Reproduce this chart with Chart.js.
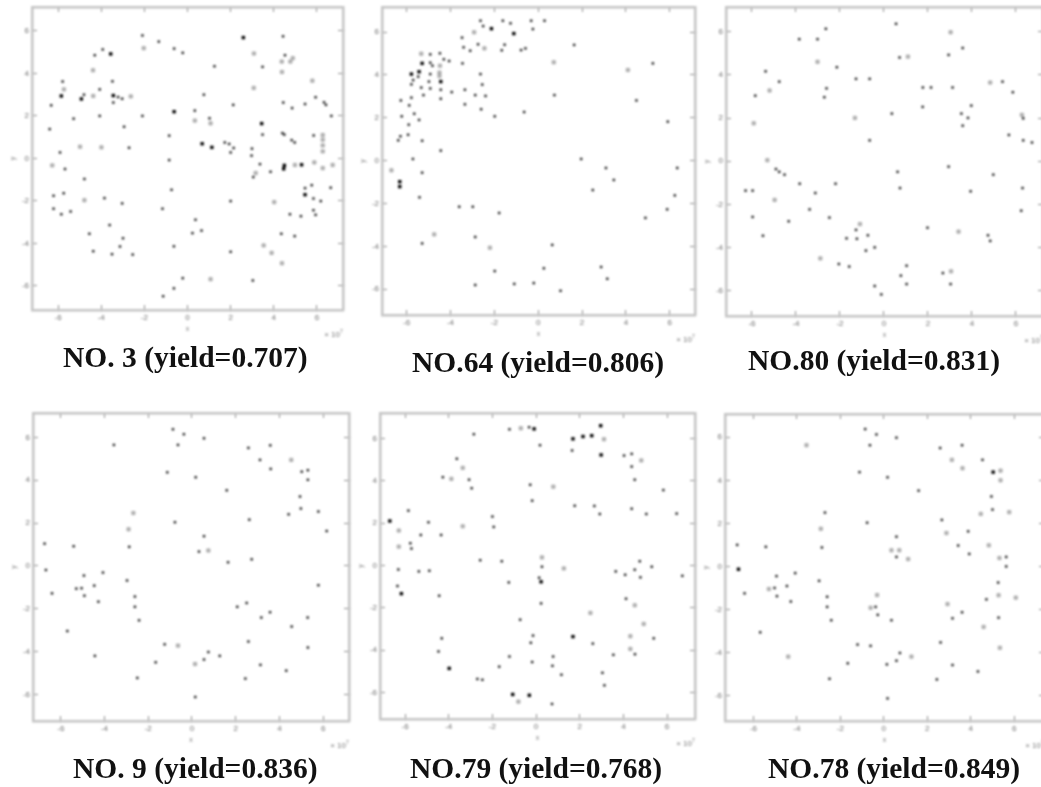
<!DOCTYPE html>
<html>
<head>
<meta charset="utf-8">
<script src="https://cdn.jsdelivr.net/npm/chart.js@4"></script>
<style>
  html, body { margin: 0; background: #fff; }
  body { position: relative; width: 1041px; height: 787px; overflow: hidden; }
  .panel { position: absolute; }
  .panel canvas { filter: blur(0.8px); }
  .caption {
    position: absolute; white-space: nowrap; transform: translateY(-50%);
    font: bold 29.5px "Liberation Serif", serif; color: #111; filter: blur(0.4px);
  }
</style>
</head>
<body>
<script>
const tickValues = [-6, -4, -2, 0, 2, 4, 6];

// NO. 3
const no3Marks = [[-2.09,5.79],[-1.33,5.50],[-0.62,5.17],[-0.22,4.97],[4.43,5.75],[4.52,4.86],[3.48,4.31],[1.25,4.34],[-3.93,5.13],[-4.30,4.86],[-5.79,3.62],[-3.48,3.63],[-4.07,3.25],[0.76,3.00],[-4.80,3.00],[-3.22,2.89],[-3.03,2.81],[-3.44,2.63],[-6.32,2.50],[4.44,2.63],[4.85,2.37],[5.45,2.56],[5.94,2.88],[6.33,2.64],[6.42,2.52],[2.12,2.52],[0.34,2.25],[1.02,1.89],[-5.28,1.87],[-4.07,2.00],[-2.09,2.00],[6.67,2.00],[-6.39,1.38],[-2.94,1.49],[-0.85,1.07],[3.48,1.12],[4.40,1.19],[4.49,1.12],[4.83,0.86],[4.97,0.75],[5.85,1.08],[-2.71,0.50],[1.73,0.75],[1.93,0.68],[2.14,0.49],[2.00,0.28],[2.99,0.46],[-5.91,0.28],[2.97,0.13],[-0.85,-0.08],[-5.68,-0.50],[3.36,-0.27],[3.85,-0.63],[3.05,-0.88],[-4.78,-0.97],[-0.74,-1.48],[5.76,-1.26],[5.45,-1.40],[6.64,-1.38],[-6.21,-1.76],[-5.74,-1.64],[-3.85,-1.87],[-3.03,-2.12],[2.00,-2.01],[5.84,-1.89],[6.18,-2.01],[-6.21,-2.37],[-5.85,-2.63],[-5.42,-2.50],[-1.16,-2.37],[5.84,-2.44],[5.94,-2.66],[4.75,-2.63],[5.26,-2.72],[0.37,-2.89],[-3.61,-3.14],[-4.55,-3.55],[0.23,-3.52],[0.65,-3.40],[4.35,-3.55],[4.97,-3.66],[-2.99,-3.76],[-3.13,-4.15],[-4.37,-4.37],[-3.50,-4.51],[-2.54,-4.53],[-0.63,-4.14],[2.00,-4.40],[-0.22,-5.64],[-0.63,-6.12],[3.03,-5.75],[-1.13,-6.49]];
const no3Pale = [[-2.03,5.19],[3.08,4.94],[4.88,4.72],[4.37,4.56],[4.77,4.56],[-4.38,4.15],[4.38,4.07],[-5.73,3.25],[5.79,3.66],[3.07,3.32],[-4.37,2.94],[-2.63,2.92],[0.34,1.78],[1.07,1.65],[6.27,1.10],[6.27,0.88],[6.27,0.61],[6.27,0.33],[-4.98,0.55],[-3.99,0.52],[-6.27,-0.33],[4.98,-0.31],[5.88,-0.19],[6.73,-0.31],[6.27,-0.46],[3.16,-0.69],[-4.78,-1.97],[4.02,-2.06],[3.53,-4.10],[3.90,-4.45],[4.38,-4.94],[1.07,-5.69]];
const no3Heavy = [[2.59,5.69],[-3.56,4.92],[-5.85,2.94],[-4.92,2.80],[-3.44,2.96],[-0.62,2.20],[3.44,1.64],[0.68,0.69],[1.13,0.52],[4.49,-0.33],[4.46,-0.49],[5.29,-0.30],[5.45,-1.71]];

// NO.64
const no64Marks = [[-2.63,6.53],[-2.51,6.28],[-1.61,6.53],[-1.26,6.41],[-0.32,6.53],[0.29,6.53],[-0.24,6.14],[-3.47,5.74],[-2.74,5.43],[-1.53,5.41],[-3.40,5.29],[-3.10,5.13],[-1.66,5.15],[-0.78,5.16],[-0.58,5.24],[1.64,5.40],[-4.92,4.96],[-4.48,5.01],[-4.30,4.73],[-4.06,4.65],[-4.92,4.57],[-4.82,4.43],[-3.45,4.54],[5.23,4.54],[-4.92,4.04],[-2.63,4.04],[-5.47,3.92],[-5.70,3.76],[-4.98,3.69],[-5.78,3.56],[-2.55,3.55],[-5.33,3.41],[-4.92,3.37],[-4.44,3.31],[-3.94,3.20],[-3.34,3.31],[-5.23,3.06],[-2.87,3.06],[-2.40,3.02],[0.74,3.06],[-5.78,2.94],[-6.26,2.81],[-4.44,2.89],[4.48,2.81],[-5.88,2.58],[-3.34,2.63],[-2.60,2.40],[-0.64,2.27],[-5.65,2.19],[-6.22,2.07],[-5.43,1.90],[-1.98,2.07],[5.91,1.82],[-5.90,1.68],[-5.93,1.21],[-6.28,1.14],[-6.38,0.95],[-5.29,0.93],[-4.44,0.47],[-5.71,0.08],[1.96,0.08],[-5.29,-0.56],[3.09,-0.34],[6.34,-0.34],[3.45,-0.90],[2.49,-1.37],[6.23,-1.62],[-5.41,-1.71],[-3.60,-2.15],[-2.98,-2.15],[5.88,-2.27],[-1.78,-2.44],[4.89,-2.67],[-2.87,-3.56],[-5.29,-3.86],[0.64,-3.93],[2.87,-4.96],[0.26,-5.02],[-1.98,-5.15],[3.15,-5.51],[-2.87,-5.80],[-1.09,-5.75],[-0.20,-5.71],[1.02,-6.07]];
const no64Pale = [[-2.92,5.99],[-2.45,5.24],[-5.33,4.99],[-4.48,4.43],[0.71,4.59],[4.09,4.23],[-4.50,4.11],[-4.50,3.95],[-6.69,-0.45],[-4.74,-3.44],[-2.20,-4.06]];
const no64Heavy = [[-2.13,6.16],[-1.11,5.93],[-5.29,4.54],[-5.78,4.04],[-5.43,4.15],[-4.44,3.69],[-6.31,-0.98],[-6.31,-1.21]];

// NO.80
const no80Marks = [[0.55,6.37],[-2.64,6.14],[-3.85,5.66],[-3.02,5.66],[3.58,5.25],[2.94,4.93],[0.71,4.81],[-2.14,4.36],[-5.38,4.17],[-4.76,3.69],[-1.27,3.82],[-0.65,3.82],[-2.61,3.38],[-5.85,3.04],[-2.71,2.97],[1.77,3.42],[2.14,3.42],[3.12,3.42],[5.39,3.69],[5.86,3.20],[3.97,2.58],[1.76,2.52],[0.36,2.21],[3.52,2.21],[3.82,2.01],[3.58,1.65],[6.33,1.99],[5.68,1.22],[6.33,0.97],[6.73,0.87],[-0.65,0.97],[2.94,-0.25],[-4.91,-0.36],[-4.76,-0.49],[-4.52,-0.62],[0.62,-0.49],[4.97,-0.62],[-3.83,-1.04],[-2.20,-1.04],[0.73,-1.24],[6.30,-1.24],[-6.29,-1.36],[-5.97,-1.36],[3.94,-1.39],[-3.12,-1.47],[-3.38,-2.23],[6.24,-2.29],[-5.97,-2.58],[-2.48,-2.61],[-4.33,-2.78],[1.98,-3.08],[-1.27,-3.18],[-5.50,-3.45],[-1.70,-3.57],[-1.23,-3.59],[-0.73,-3.43],[4.73,-3.43],[4.83,-3.69],[-0.82,-4.14],[-0.42,-3.99],[-2.05,-4.76],[-1.58,-4.88],[1.03,-4.84],[2.68,-5.18],[0.77,-5.30],[1.03,-5.69],[3.03,-5.69],[-0.42,-5.78],[-0.12,-6.17]];
const no80Pale = [[3.03,5.98],[1.09,4.85],[-3.02,4.61],[-5.20,3.28],[4.83,3.65],[-1.32,2.01],[-5.92,1.76],[6.27,2.15],[-5.30,0.05],[-4.97,-1.79],[-1.09,-2.91],[3.39,-3.26],[-2.89,-4.50],[3.05,-5.10]];
const no80Heavy = [];

// NO. 9
const no9Marks = [[-0.87,6.38],[-0.37,6.15],[0.55,5.96],[-3.57,5.65],[-0.64,5.65],[2.58,5.51],[3.58,5.63],[3.11,4.95],[3.60,4.53],[5.02,4.40],[5.30,4.47],[-1.13,4.37],[0.17,4.14],[5.30,4.02],[1.59,3.53],[4.94,3.24],[4.98,2.68],[5.78,2.54],[4.42,2.41],[2.62,2.16],[-0.78,2.04],[6.16,1.63],[0.55,1.39],[-2.87,0.89],[-6.74,1.04],[-5.41,0.92],[0.32,0.67],[2.73,0.31],[1.65,0.17],[-6.68,-0.19],[-4.94,-0.45],[-4.07,-0.31],[-2.97,-0.68],[5.78,-0.90],[-4.47,-0.92],[-5.29,-1.06],[-5.05,-1.04],[-6.40,-1.28],[-4.92,-1.39],[-2.61,-1.43],[-4.28,-1.67],[-2.61,-1.91],[2.07,-1.91],[2.50,-1.73],[3.57,-2.16],[3.17,-2.41],[5.29,-2.41],[-2.42,-2.54],[4.56,-2.83],[-5.70,-3.04],[2.58,-3.53],[-1.25,-3.66],[5.30,-3.81],[0.75,-4.02],[1.27,-4.20],[-4.44,-4.20],[0.55,-4.37],[-1.66,-4.50],[3.13,-4.62],[4.31,-4.89],[-2.50,-5.23],[2.44,-5.26],[0.15,-6.12]];
const no9Pale = [[4.54,4.95],[-2.68,2.47],[-2.90,1.71],[0.75,0.72],[-0.64,-3.72],[0.14,-4.58]];
const no9Heavy = [];

// NO.79
const no79Marks = [[-2.85,6.20],[-1.22,6.43],[-0.32,6.53],[0.18,5.68],[1.65,5.43],[4.03,5.19],[4.38,5.27],[-3.63,5.04],[4.38,4.67],[-4.27,4.17],[-3.07,4.05],[4.52,4.05],[-0.27,3.81],[-2.95,3.65],[5.83,3.56],[-0.18,3.06],[1.77,2.82],[2.67,2.81],[4.38,2.68],[2.92,2.43],[5.05,2.43],[6.44,2.45],[-5.85,2.59],[-2.00,2.31],[-4.93,2.04],[-5.28,1.44],[-4.35,1.44],[-1.94,1.82],[-5.76,1.05],[-5.71,0.80],[4.75,0.20],[-2.56,0.25],[-1.57,0.20],[0.27,-0.06],[5.30,-0.06],[-6.31,-0.19],[-5.37,-0.28],[-4.89,-0.25],[3.65,-0.28],[4.52,-0.20],[4.08,-0.44],[4.78,-0.56],[6.70,-0.49],[0.14,-0.58],[-1.25,-0.80],[-6.35,-0.97],[-4.44,-1.43],[0.23,-1.79],[4.12,-1.57],[-0.73,-2.56],[-4.32,-3.44],[-0.14,-3.31],[-0.24,-3.65],[5.39,-3.44],[2.60,-3.69],[-4.47,-4.06],[4.53,-4.19],[3.54,-4.22],[-1.22,-4.30],[0.78,-4.30],[-0.18,-4.56],[0.75,-4.74],[-1.69,-4.78],[1.16,-5.16],[3.04,-5.07],[-2.69,-5.36],[-2.46,-5.40],[3.13,-5.66],[0.73,-6.54]];
const no79Pale = [[-0.70,6.48],[3.11,5.96],[4.82,4.96],[-3.36,4.61],[-3.88,4.09],[0.79,3.72],[-6.29,1.65],[-3.36,1.85],[-6.29,0.89],[0.27,0.38],[1.27,-0.14],[4.52,-1.88],[2.49,-2.24],[4.93,-2.76],[4.32,-3.34],[4.32,-3.94],[-0.81,-6.43]];
const no79Heavy = [[-0.09,6.45],[2.96,6.60],[1.69,5.98],[2.15,6.09],[2.55,6.13],[2.98,5.22],[-6.70,2.10],[0.23,-0.77],[-6.17,-1.33],[1.69,-3.36],[-3.98,-4.86],[-1.07,-6.09],[-0.31,-6.13]];

// NO.78
const no78Marks = [[-0.86,6.38],[-0.34,6.13],[0.58,5.98],[-0.64,5.63],[2.59,5.50],[3.60,5.63],[4.54,4.95],[-1.12,4.38],[0.17,4.14],[1.60,3.52],[4.95,3.25],[5.00,2.64],[-2.71,2.50],[2.67,2.16],[-0.77,2.03],[3.88,1.63],[0.58,1.38],[-2.85,0.88],[-6.75,1.00],[-5.43,0.91],[3.42,0.97],[0.58,0.44],[3.93,0.58],[5.63,0.44],[5.63,0.00],[-4.94,-0.45],[-4.08,-0.31],[-2.98,-0.67],[5.26,-0.75],[-4.46,-0.91],[-5.03,-1.00],[-6.41,-1.25],[-4.92,-1.38],[-2.61,-1.41],[4.72,-1.53],[-4.28,-1.63],[-0.38,-1.88],[-2.61,-1.88],[3.60,-2.13],[-0.28,-2.25],[3.16,-2.41],[5.28,-2.38],[-2.42,-2.50],[0.35,-2.50],[-5.69,-3.06],[2.61,-3.53],[-1.21,-3.63],[-0.61,-3.69],[0.74,-4.02],[0.58,-4.38],[-1.66,-4.50],[0.14,-4.55],[3.16,-4.58],[4.33,-4.88],[-2.50,-5.22],[2.44,-5.25],[0.17,-6.13]];
const no78Pale = [[-3.56,5.63],[3.13,4.95],[3.62,4.56],[5.37,4.45],[5.37,4.00],[5.77,2.52],[4.46,2.44],[-2.90,1.75],[2.88,1.55],[4.83,0.98],[0.35,0.75],[0.71,0.75],[1.12,0.34],[5.32,0.39],[-5.29,-1.05],[-0.31,-1.33],[5.28,-1.34],[6.07,-1.45],[2.93,-1.75],[-0.61,-1.92],[4.59,-2.81],[5.34,-3.78],[1.27,-4.19],[-4.40,-4.19]];
const no78Heavy = [[5.03,4.38],[-6.69,-0.13]];

// frame of each panel on the page, and where its caption sits
const panels = [
  { title: 'NO. 3 (yield=0.707)',  marks: no3Marks,  pale: no3Pale,  heavy: no3Heavy,  left: 32,  right: 343, top: 7,   bottom: 310, xr: [-7.21, 7.21], yr: [-7.14, 7.13], capX: 63,  capY: 357 },
  { title: 'NO.64 (yield=0.806)',  marks: no64Marks, pale: no64Pale, heavy: no64Heavy, left: 382, right: 695, top: 7,   bottom: 315, xr: [-7.12, 7.15], yr: [-7.2, 7.17],  capX: 412, capY: 362 },
  { title: 'NO.80 (yield=0.831)',  marks: no80Marks, pale: no80Pale, heavy: no80Heavy, left: 726, right: 1043, top: 7,  bottom: 316, xr: [-7.18, 7.23], yr: [-7.17, 7.15], capX: 748, capY: 360 },
  { title: 'NO. 9 (yield=0.836)',  marks: no9Marks,  pale: no9Pale,  heavy: no9Heavy,  left: 33,  right: 349, top: 413, bottom: 721, xr: [-7.27, 7.18], yr: [-7.24, 7.14], capX: 73,  capY: 768 },
  { title: 'NO.79 (yield=0.768)',  marks: no79Marks, pale: no79Pale, heavy: no79Heavy, left: 380, right: 695, top: 413, bottom: 719, xr: [-7.15, 7.28], yr: [-7.25, 7.2],  capX: 410, capY: 768 },
  { title: 'NO.78 (yield=0.849)',  marks: no78Marks, pale: no78Pale, heavy: no78Heavy, left: 725, right: 1044, top: 414, bottom: 721, xr: [-7.31, 7.37], yr: [-7.18, 7.08], capX: 768, capY: 768 },
];

const GUTTER_L = 26, GUTTER_B = 30, GUTTER_T = 5, GUTTER_R = 6;

const exponentLabel = {
  id: 'exponentLabel',
  afterDraw(chart) {
    const { ctx, chartArea } = chart;
    ctx.save();
    ctx.fillStyle = '#777';
    ctx.font = '8px "Liberation Sans"';
    ctx.textAlign = 'right';
    ctx.fillText('× 10', chartArea.right - 3, chartArea.bottom + 27);
    ctx.font = '5px "Liberation Sans"';
    ctx.textAlign = 'left';
    ctx.fillText('7', chartArea.right - 3, chartArea.bottom + 23);
    ctx.restore();
  }
};

const toPoints = pairs => pairs.map(p => ({ x: p[0], y: p[1] }));
const fixedTicks = s => { s.ticks = tickValues.map(v => ({ value: v })); };

function axis(range, side, gutter, labelled, name) {
  const isX = side === 'bottom' || side === 'top';
  return {
    type: 'linear',
    position: side,
    min: range[0],
    max: range[1],
    afterBuildTicks: fixedTicks,
    afterFit: s => {
      if (isX) s.height = gutter; else s.width = gutter;
      // tick label padding would otherwise push the plot area inwards
      s.paddingLeft = s.paddingRight = s.paddingTop = s.paddingBottom = 0;
    },
    border: { display: true, width: 2.5, color: '#c4c4c4' },
    grid: { drawOnChartArea: false, tickLength: -5, tickColor: '#8c8c8c', tickWidth: 1 },
    ticks: {
      display: labelled,
      autoSkip: false,
      maxRotation: 0,
      padding: 8,
      color: '#6e6e6e',
      font: { size: 8, family: 'Liberation Sans' },
      callback: v => String(v)
    },
    title: {
      display: labelled,
      text: name,
      color: '#808080',
      font: { size: 7, family: 'Liberation Sans' },
      padding: isX ? { top: 0, bottom: 7 } : { top: 3, bottom: 0 }
    }
  };
}

panels.forEach(p => {
  const box = document.createElement('div');
  box.className = 'panel';
  box.style.left = (p.left - GUTTER_L) + 'px';
  box.style.top = (p.top - GUTTER_T) + 'px';
  box.style.width = (p.right - p.left + GUTTER_L + GUTTER_R) + 'px';
  box.style.height = (p.bottom - p.top + GUTTER_T + GUTTER_B) + 'px';
  const canvas = document.createElement('canvas');
  box.appendChild(canvas);
  document.body.appendChild(box);

  new Chart(canvas, {
    type: 'scatter',
    plugins: [exponentLabel],
    data: {
      datasets: [
        { label: 'pale', data: toPoints(p.pale), pointStyle: 'rect', pointRadius: 2.2, borderWidth: 0.7, borderColor: '#8c8c8c', backgroundColor: '#bdbdbd' },
        { label: 'marks', data: toPoints(p.marks), pointStyle: 'rect', pointRadius: 1.7, borderWidth: 0, backgroundColor: '#1e1e1e' },
        { label: 'heavy', data: toPoints(p.heavy), pointStyle: 'rect', pointRadius: 2.4, borderWidth: 0, backgroundColor: '#000' }
      ]
    },
    options: {
      responsive: true,
      maintainAspectRatio: false,
      animation: false,
      layout: { autoPadding: false, padding: 0 },
      plugins: { legend: { display: false }, tooltip: { enabled: false } },
      scales: {
        x: axis(p.xr, 'bottom', GUTTER_B, true, 'x'),
        y: axis(p.yr, 'left', GUTTER_L, true, 'y'),
        x2: axis(p.xr, 'top', GUTTER_T, false, ''),
        y2: axis(p.yr, 'right', GUTTER_R, false, '')
      }
    }
  });

  const cap = document.createElement('div');
  cap.className = 'caption';
  cap.style.left = p.capX + 'px';
  cap.style.top = p.capY + 'px';
  cap.textContent = p.title;
  document.body.appendChild(cap);
});
</script>
</body>
</html>
